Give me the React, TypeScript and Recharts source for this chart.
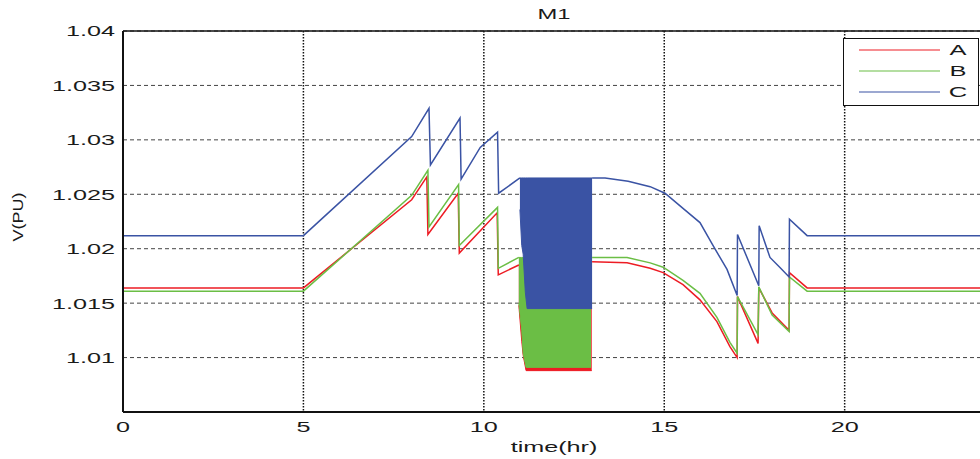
import React from "react";
import {
  ComposedChart,
  Line,
  Area,
  XAxis,
  YAxis,
  CartesianGrid,
  ReferenceLine,
} from "recharts";

// ---- Data ----
const seriesNames = ["A", "B", "C"];
const seriesColors = ["#ED1C24", "#6BBE45", "#3A53A4"];

const xTicks = [0, 5, 10, 15, 20];
const xTickLabels = ["0", "5", "10", "15", "20"];
const yTicks = [1.01, 1.015, 1.02, 1.025, 1.03, 1.035, 1.04];
const yTickLabels = ["1.01", "1.015", "1.02", "1.025", "1.03", "1.035", "1.04"];

// Series A (red); null = inside the fast-switching band (drawn as a band below)
const timeA = [0, 5.0, 8.0, 8.42, 8.45, 9.29, 9.32, 10.37, 10.4, 10.97, 12.0,
  13.0, 13.97, 14.61, 14.97, 15.52, 15.99, 16.46, 16.82, 17.02, 17.03, 17.6, 17.62, 17.99, 18.46, 18.47, 18.96, 24];
const voltA = [1.0164, 1.0164, 1.0245, 1.0266, 1.0213, 1.0251, 1.0196, 1.0233, 1.0176, 1.0185, null,
  1.0188, 1.0187, 1.0182, 1.0178, 1.0167, 1.0153, 1.0133, 1.011, 1.01, 1.0156, 1.0113, 1.0164, 1.0141, 1.0125, 1.0178, 1.0164, 1.0164];
const bandTimeA = [10.97, 11.05, 11.09, 11.17, 12.99];
const bandLowA = [1.0148, 1.0115, 1.0102, 1.0088, 1.0088];
const bandHighA = [1.0185, 1.0188, 1.019, 1.019, 1.019];

// Series B (green)
const timeB = [0, 5.0, 8.0, 8.45, 8.48, 9.3, 9.32, 10.38, 10.4, 10.97, 12.0,
  13.0, 13.97, 14.61, 14.97, 15.52, 15.99, 16.46, 16.82, 17.02, 17.03, 17.6, 17.62, 17.99, 18.46, 18.47, 18.96, 24];
const voltB = [1.0161, 1.0161, 1.0249, 1.0272, 1.022, 1.0259, 1.0203, 1.0238, 1.0182, 1.0192, null,
  1.0192, 1.0192, 1.0187, 1.0183, 1.0171, 1.0159, 1.0137, 1.0114, 1.0104, 1.0156, 1.0121, 1.0165, 1.0139, 1.0124, 1.0174, 1.0161, 1.0161];
const bandTimeB = [10.97, 11.05, 11.09, 11.17, 12.97];
const bandLowB = [1.015, 1.0125, 1.0104, 1.0091, 1.0091];
const bandHighB = [1.0192, 1.0192, 1.0192, 1.0192, 1.0192];

// Series C (blue)
const timeC = [0, 5.0, 8.0, 8.48, 8.52, 9.34, 9.37, 9.9, 10.38, 10.41, 11.0, 12.0,
  13.0, 13.36, 14.0, 14.61, 15.02, 15.52, 15.99, 16.35, 16.74, 17.02, 17.03, 17.62, 17.63, 17.93, 18.2, 18.46, 18.47, 18.96, 24];
const voltC = [1.0212, 1.0212, 1.0303, 1.0329, 1.0277, 1.032, 1.0264, 1.0293, 1.0307, 1.0251, 1.0265, null,
  1.0265, 1.0265, 1.0262, 1.0257, 1.0251, 1.0237, 1.0224, 1.0203, 1.0181, 1.0157, 1.0213, 1.0166, 1.0221, 1.0192, 1.0183, 1.0174, 1.0227, 1.0212, 1.0212];
const bandTimeC = [11.0, 11.05, 11.09, 11.15, 11.2, 13.0];
const bandLowC = [1.0236, 1.0203, 1.0195, 1.016, 1.0145, 1.0145];
const bandHighC = [1.0265, 1.0265, 1.0265, 1.0265, 1.0265, 1.0265];

// ---- Build series tables ----
const toLine = (ts: number[], vs: (number | null)[]) => ts.map((t, i) => ({ t, v: vs[i] }));
const toBand = (ts: number[], lo: number[], hi: number[]) =>
  ts.map((t, i) => ({ t, r: [lo[i], hi[i]] }));

const lines = [toLine(timeA, voltA), toLine(timeB, voltB), toLine(timeC, voltC)];
const bands = [
  toBand(bandTimeA, bandLowA, bandHighA),
  toBand(bandTimeB, bandLowB, bandHighB),
  toBand(bandTimeC, bandLowC, bandHighC),
];

const FONT = "'Liberation Sans', Arial, Helvetica, sans-serif";
const TXT = "#1a1a1a";
const SX = 1.68;

const YTick = (props: any) => {
  const { x, y, index } = props;
  return (
    <text
      transform={`translate(${x},${y}) scale(${SX},1)`}
      textAnchor="end"
      dy="0.36em"
      fontSize={15}
      fontFamily={FONT}
      fill={TXT}
    >
      {yTickLabels[index]}
    </text>
  );
};

const XTick = (props: any) => {
  const { x, y, index } = props;
  return (
    <text
      transform={`translate(${x},${y}) scale(${SX},1)`}
      textAnchor="middle"
      dy={12}
      fontSize={15}
      fontFamily={FONT}
      fill={TXT}
    >
      {xTickLabels[index]}
    </text>
  );
};

export default function App() {
  return (
    <div
      style={{
        position: "fixed",
        left: 0,
        top: 0,
        width: 980,
        height: 459,
        overflow: "hidden",
        background: "#fff",
      }}
    >
      <ComposedChart
        width={1000}
        height={459}
        margin={{ top: 31, right: 11, bottom: 0, left: 0 }}
      >
        <CartesianGrid
          horizontal={false}
          vertical={true}
          stroke="#111"
          strokeWidth={1.5}
          strokeDasharray="1.5 1.5"
        />
        <CartesianGrid
          horizontal={true}
          vertical={false}
          stroke="#444"
          strokeWidth={1}
          strokeDasharray="4 3"
        />
        <XAxis
          type="number"
          dataKey="t"
          domain={[0, 24]}
          ticks={xTicks}
          allowDataOverflow
          height={47}
          tickLine={false}
          tick={<XTick />}
          axisLine={{ stroke: "#111", strokeWidth: 2 }}
          interval={0}
        />
        <YAxis
          type="number"
          domain={[1.005, 1.04]}
          ticks={yTicks}
          allowDataOverflow
          width={123}
          tickLine={false}
          tick={<YTick />}
          axisLine={{ stroke: "#111", strokeWidth: 2 }}
          interval={0}
        />
        <ReferenceLine y={1.04} stroke="#111" strokeWidth={1.5} />
        {seriesNames.map((name, i) => [
          <Line
            key={`l${name}`}
            data={lines[i]}
            dataKey="v"
            name={name}
            type="linear"
            stroke={seriesColors[i]}
            strokeWidth={1.5}
            dot={false}
            activeDot={false}
            connectNulls={false}
            isAnimationActive={false}
          />,
          <Area
            key={`b${name}`}
            data={bands[i]}
            dataKey="r"
            type="linear"
            stroke={seriesColors[i]}
            strokeWidth={1}
            fill={seriesColors[i]}
            fillOpacity={1}
            dot={false}
            activeDot={false}
            isAnimationActive={false}
          />,
        ])}
      </ComposedChart>
      <svg
        width={980}
        height={459}
        style={{ position: "absolute", left: 0, top: 0, pointerEvents: "none" }}
      >
        <text
          transform={`translate(554,19) scale(1.7,1)`}
          textAnchor="middle"
          fontSize={14}
          fontFamily={FONT}
          fill={TXT}
        >
          M1
        </text>
        <text
          transform={`translate(554,452) scale(${SX},1)`}
          textAnchor="middle"
          fontSize={15}
          fontFamily={FONT}
          fill={TXT}
        >
          time(hr)
        </text>
        <text
          transform={`translate(18,217) rotate(-90) scale(1.2,1)`}
          textAnchor="middle"
          dy="0.36em"
          fontSize={15}
          fontFamily={FONT}
          fill={TXT}
        >
          V(PU)
        </text>
        <rect x={843.5} y={38.5} width={135} height={67} fill="#fff" stroke="#111" strokeWidth={1} />
        {seriesNames.map((name, i) => (
          <g key={name}>
            <line x1={859} x2={940} y1={50 + i * 21} y2={50 + i * 21} stroke={seriesColors[i]} strokeWidth={1.2} />
            <text
              transform={`translate(958,${50 + i * 21}) scale(1.7,1)`}
              textAnchor="middle"
              dy="0.36em"
              fontSize={15}
              fontFamily={FONT}
              fill={TXT}
            >
              {name}
            </text>
          </g>
        ))}
      </svg>
    </div>
  );
}
